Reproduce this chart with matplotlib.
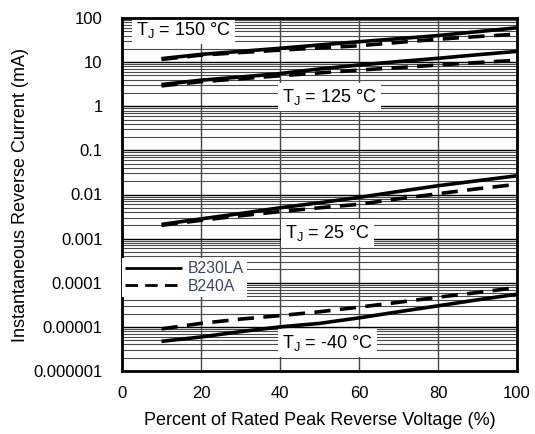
import matplotlib
matplotlib.use("Agg")
import matplotlib.pyplot as plt
from matplotlib.ticker import FixedLocator, FixedFormatter, LogLocator, NullFormatter

plt.rcParams['font.family'] = ['Liberation Sans', 'DejaVu Sans']
plt.rcParams['mathtext.fontset'] = 'custom'
plt.rcParams['mathtext.rm'] = 'Liberation Sans'

# ---- data ----
v_percent = [10, 20, 30, 40, 50, 60, 70, 80, 90, 100]

b230la_150 = [12.0, 15.0, 17.5, 20.6, 24.5, 29.0, 34.0, 40.0, 49.0, 60.0]
b240a_150 = [11.5, 14.4, 16.5, 18.7, 21.0, 23.5, 28.0, 33.0, 38.0, 43.0]

b230la_125 = [3.1, 3.9, 4.6, 5.5, 7.0, 8.6, 10.3, 12.2, 14.7, 17.5]
b240a_125 = [2.9, 3.6, 4.2, 4.9, 5.7, 6.6, 7.5, 8.6, 9.8, 11.0]

b230la_25 = [0.0021, 0.0028, 0.0037, 0.0050, 0.0065, 0.0086, 0.0117, 0.0158, 0.0205, 0.0266]
b240a_25 = [0.0020, 0.0026, 0.0033, 0.0041, 0.0050, 0.0060, 0.0080, 0.0104, 0.0135, 0.0170]

b230la_m40 = [4.7e-6, 5.9e-6, 7.8e-6, 1.0e-5, 1.2e-5, 1.6e-5, 2.2e-5, 3.0e-5, 4.1e-5, 5.5e-5]
b240a_m40 = [9.0e-6, 1.2e-5, 1.5e-5, 1.8e-5, 2.2e-5, 2.8e-5, 3.6e-5, 4.7e-5, 6.0e-5, 7.8e-5]

x_ticks = [0, 20, 40, 60, 80, 100]
y_ticks = [1e-6, 1e-5, 1e-4, 1e-3, 1e-2, 1e-1, 1, 10, 100]
y_tick_labels = ["0.000001", "0.00001", "0.0001", "0.001", "0.01", "0.1", "1", "10", "100"]

temp_labels = ["150", "125", "25", "-40"]
temp_label_pos = [(15.6, 54.0), (52.5, 1.62), (52.0, 0.00135), (52.0, 4.3e-6)]

series_names = ["B230LA", "B240A"]

# ---- figure ----
fig = plt.figure(figsize=(5.35, 4.34), dpi=100)
ax = fig.add_axes([122/535, 63/434, 395/535, 353/434])
ax.set_yscale('log')
ax.set_xlim(0, 100)
ax.set_ylim(1e-6, 100)

# grid
ax.yaxis.set_major_locator(FixedLocator(y_ticks))
ax.yaxis.set_major_formatter(FixedFormatter(y_tick_labels))
ax.yaxis.set_minor_locator(LogLocator(base=10, subs=range(2, 10), numticks=20))
ax.yaxis.set_minor_formatter(NullFormatter())
ax.xaxis.set_major_locator(FixedLocator(x_ticks))
ax.grid(True, which='major', axis='y', color='black', lw=1.0)
ax.grid(True, which='minor', axis='y', color='#4a4a4a', lw=0.8)
ax.grid(True, which='major', axis='x', color='#444444', lw=1.0)
ax.tick_params(which='both', length=0)
ax.tick_params(axis='y', pad=14, labelsize=12)
ax.tick_params(axis='x', pad=11, labelsize=12)
for s in ax.spines.values():
    s.set_linewidth(2.0)
    s.set_zorder(5)

lw = 2.6
dash = (4.5, 2.6)
solids = [b230la_150, b230la_125, b230la_25, b230la_m40]
dashes = [b240a_150, b240a_125, b240a_25, b240a_m40]
for i, (s, d) in enumerate(zip(solids, dashes)):
    ax.plot(v_percent, s, color='black', lw=lw, solid_capstyle='butt', zorder=4,
            label=series_names[0] if i == 0 else None)
    ax.plot(v_percent, d, color='black', lw=lw, linestyle=(0, dash), zorder=4,
            label=series_names[1] if i == 0 else None)

for t, (xx, yy) in zip(temp_labels, temp_label_pos):
    ax.text(xx, yy, 'T$_\\mathregular{J}$ = ' + t + ' °C', fontsize=13, ha='center', va='center',
            zorder=3, bbox=dict(facecolor='white', edgecolor='none', pad=3))

leg = ax.legend(loc='upper left', bbox_to_anchor=(0.0, 0.32), frameon=True, fancybox=False,
                handlelength=3.6, fontsize=11.3, borderpad=0.2, labelspacing=0.15,
                handletextpad=0.4, borderaxespad=0.0)
leg.get_frame().set_edgecolor('none')
leg.get_frame().set_facecolor('white')
leg.get_frame().set_alpha(1.0)
leg.set_zorder(6)
for txt in leg.get_texts():
    txt.set_color('#3b4660')
for ln in leg.get_lines():
    ln.set_linewidth(2.0)

ax.set_xlabel('Percent of Rated Peak Reverse Voltage (%)', fontsize=13, labelpad=8)
ax.set_ylabel('Instantaneous Reverse Current (mA)', fontsize=13, labelpad=3)

fig.savefig('out.png', dpi=100)
